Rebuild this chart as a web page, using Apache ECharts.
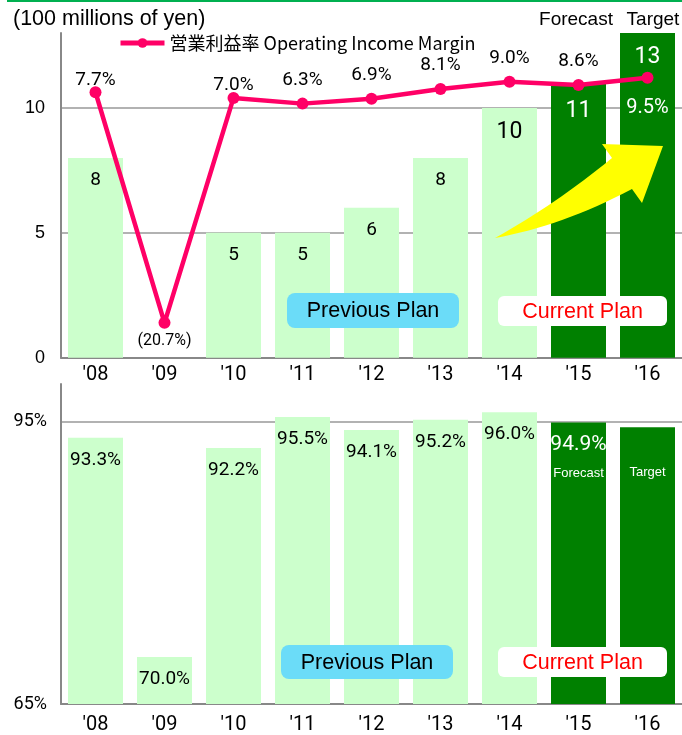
<!DOCTYPE html>
<html>
<head>
<meta charset="utf-8">
<title>Operating Income</title>
<script src="https://cdn.jsdelivr.net/npm/echarts@6.0.0/dist/echarts.min.js"></script>
<style>
  html, body { margin: 0; padding: 0; background: #fff; }
  #chart { width: 682px; height: 735px; }
</style>
</head>
<body>
<div id="chart"></div>
<script>
// Fiscal years on both panels
const years = ["'08", "'09", "'10", "'11", "'12", "'13", "'14", "'15", "'16"];
// Operating income (100 millions of yen)
const operatingIncome = [8, -0.1, 5, 5, 6, 8, 10, 11, 13];
// Operating income margin (%)
const incomeMargin = [7.7, -20.7, 7.0, 6.3, 6.9, 8.1, 9.0, 8.6, 9.5];
// Lower panel ratio (%)
const ratioValues = [93.3, 70.0, 92.2, 95.5, 94.1, 95.2, 96.0, 94.9, 94.4];
// Plan stage of each year
const planStage = ['', '', '', '', '', '', '', 'Forecast', 'Target'];
// Axis ticks
const incomeTicks = { min: 0, max: 13, step: 5 };
const marginRange = { min: -25, max: 15 };
const ratioTicks = { min: 65, max: 99, step: 30 };

const NARROW = "Roboto,'DejaVu Sans Condensed',sans-serif";
const SANS = "'Liberation Sans',Arial,sans-serif";
const CJK = "'Noto Sans CJK JP','Noto Sans',sans-serif";
const LIGHT = '#CCFFCC';
const DARK = '#008000';
const PINK = '#FF0066';
const AXIS = '#888888';

const isPlan = i => planStage[i] !== '';

const incomeData = operatingIncome.map((v, i) => {
  const big = v >= 10;
  return {
    value: v,
    itemStyle: { color: isPlan(i) ? DARK : LIGHT },
    label: {
      show: v > 0,
      position: 'insideTop',
      distance: big ? (isPlan(i) && v < 12 ? 17 : 13) : 13,
      fontSize: big ? 23 : 19,
      color: isPlan(i) ? '#fff' : '#000',
      fontFamily: NARROW
    }
  };
});

const marginData = incomeMargin.map((v, i) => {
  const label = {
    show: true,
    position: 'top',
    distance: 8,
    fontSize: 19,
    color: '#000',
    fontFamily: NARROW,
    formatter: v.toFixed(1) + '%'
  };
  if (v < 0) {
    label.position = 'bottom';
    label.distance = 4;
    label.fontSize = 16;
    label.formatter = '(' + Math.abs(v).toFixed(1) + '%)';
  } else if (i === 0 || i === 2) {
    label.distance = -3;
  }
  if (planStage[i] === 'Target') {
    label.position = 'bottom';
    label.distance = 14;
    label.color = '#fff';
    label.fontSize = 20;
  }
  return { value: v, label };
});

const ratioData = ratioValues.map((v, i) => {
  const item = {
    value: v,
    itemStyle: { color: isPlan(i) ? DARK : LIGHT },
    label: {
      show: true,
      position: 'insideTop',
      distance: 13,
      fontSize: 19,
      color: '#000',
      fontFamily: NARROW,
      formatter: v.toFixed(1) + '%'
    }
  };
  if (planStage[i] === 'Forecast') {
    item.label = {
      show: true, position: 'insideTop', distance: 9, color: '#fff',
      formatter: '{v|' + v.toFixed(1) + '%}\n{s|' + planStage[i] + '}',
      rich: {
        v: { fontSize: 21, lineHeight: 26, color: '#fff', fontFamily: NARROW },
        s: { fontSize: 13, lineHeight: 32, color: '#fff', fontFamily: SANS }
      }
    };
  } else if (planStage[i] === 'Target') {
    item.label = {
      show: true, position: 'insideTop', distance: 39, color: '#fff',
      fontSize: 13, fontFamily: SANS, formatter: planStage[i]
    };
  }
  return item;
});

// Rounded caption box with centred text
function planBox(x, y, w, h, r, fill, text, color) {
  return [
    { type: 'rect', z: 100, shape: { x, y, width: w, height: h, r }, style: { fill } },
    {
      type: 'text', z: 101, x: x + w / 2, y: y + h / 2 + 1,
      style: { text, fill: color, fontSize: 21.5, fontFamily: SANS, align: 'center', verticalAlign: 'middle' }
    }
  ];
}

// Sample a quadratic curve for the arrow outline
function quad(p0, c, p1, n) {
  const pts = [];
  for (let k = 0; k <= n; k++) {
    const t = k / n, u = 1 - t;
    pts.push([u * u * p0[0] + 2 * u * t * c[0] + t * t * p1[0],
              u * u * p0[1] + 2 * u * t * c[1] + t * t * p1[1]]);
  }
  return pts;
}
const arrowOutline = [].concat(
  quad([495, 238], [556, 204], [612, 158], 16),
  [[602, 144], [663, 146], [642, 203]],
  quad([632, 189], [562, 226], [495, 238], 16)
);

const categoryAxis = (gridIndex, margin) => ({
  type: 'category', gridIndex, data: years,
  axisLine: { lineStyle: { color: AXIS, width: 2 } },
  axisTick: { show: false },
  axisLabel: { color: '#000', fontSize: 20, fontFamily: NARROW, margin }
});

const chart = echarts.init(document.getElementById('chart'), null, { renderer: 'canvas' });
chart.setOption({
  animation: false,
  backgroundColor: '#fff',
  title: {
    text: '(100 millions of yen)', left: 8, top: 3,
    textStyle: { fontSize: 21.5, fontWeight: 'normal', color: '#000', fontFamily: SANS }
  },
  legend: {
    data: ['営業利益率 Operating Income Margin'],
    left: 113, top: 29, itemWidth: 44, itemHeight: 12, itemGap: 4,
    lineStyle: { width: 5 },
    textStyle: { fontSize: 18, color: '#000', fontFamily: CJK }
  },
  grid: [
    { left: 61, right: -2, top: 33, bottom: 377.3 },
    { left: 61, right: -2, top: 384, bottom: 31 }
  ],
  xAxis: [categoryAxis(0, 7), categoryAxis(1, 11)],
  yAxis: [
    {
      type: 'value', gridIndex: 0,
      min: incomeTicks.min, max: incomeTicks.max, interval: incomeTicks.step,
      axisLine: { show: true, lineStyle: { color: AXIS, width: 2 } },
      axisTick: { show: false },
      axisLabel: { color: '#000', fontSize: 18, fontFamily: SANS, margin: 16, showMaxLabel: false },
      splitLine: { show: true, showMaxLine: false, lineStyle: { color: '#999', width: 1.5 } }
    },
    {
      type: 'value', gridIndex: 0, min: marginRange.min, max: marginRange.max,
      show: false, splitLine: { show: false }
    },
    {
      type: 'value', gridIndex: 1,
      min: ratioTicks.min, max: ratioTicks.max, interval: ratioTicks.step,
      axisLine: { show: true, lineStyle: { color: AXIS, width: 2 } },
      axisTick: { show: false },
      axisLabel: { color: '#000', fontSize: 18, fontFamily: NARROW, margin: 14, showMaxLabel: false, formatter: '{value}%' },
      splitLine: { show: true, showMaxLine: false, lineStyle: { color: '#999', width: 1.5 } }
    }
  ],
  series: [
    {
      name: 'Operating Income', type: 'bar', xAxisIndex: 0, yAxisIndex: 0,
      barWidth: 55, data: incomeData, z: 2
    },
    {
      name: '営業利益率 Operating Income Margin', type: 'line', xAxisIndex: 0, yAxisIndex: 1,
      data: marginData, symbol: 'circle', symbolSize: 12, z: 20,
      lineStyle: { color: PINK, width: 4.5 },
      itemStyle: { color: PINK }
    },
    {
      name: 'Ratio', type: 'bar', xAxisIndex: 1, yAxisIndex: 2,
      barWidth: 55, data: ratioData, z: 2
    }
  ],
  graphic: [
    { type: 'rect', z: 100, shape: { x: 7, y: 0, width: 675, height: 2 }, style: { fill: '#00B050' } },
    { type: 'text', z: 100, x: 576, y: 20, style: { text: 'Forecast', fontSize: 19, fontFamily: SANS, fill: '#000', align: 'center', verticalAlign: 'middle' } },
    { type: 'text', z: 100, x: 653, y: 20, style: { text: 'Target', fontSize: 19, fontFamily: SANS, fill: '#000', align: 'center', verticalAlign: 'middle' } },
    { type: 'polygon', z: 100, shape: { points: arrowOutline }, style: { fill: '#FFFF00' } }
  ].concat(
    planBox(287, 293, 172, 35, 8, '#6BDCF8', 'Previous Plan', '#000'),
    planBox(498, 296, 169, 30, 6, '#ffffff', 'Current Plan', '#FF0000'),
    planBox(281, 645, 172, 34, 8, '#6BDCF8', 'Previous Plan', '#000'),
    planBox(498, 647, 169, 30, 6, '#ffffff', 'Current Plan', '#FF0000')
  )
});
</script>
</body>
</html>
